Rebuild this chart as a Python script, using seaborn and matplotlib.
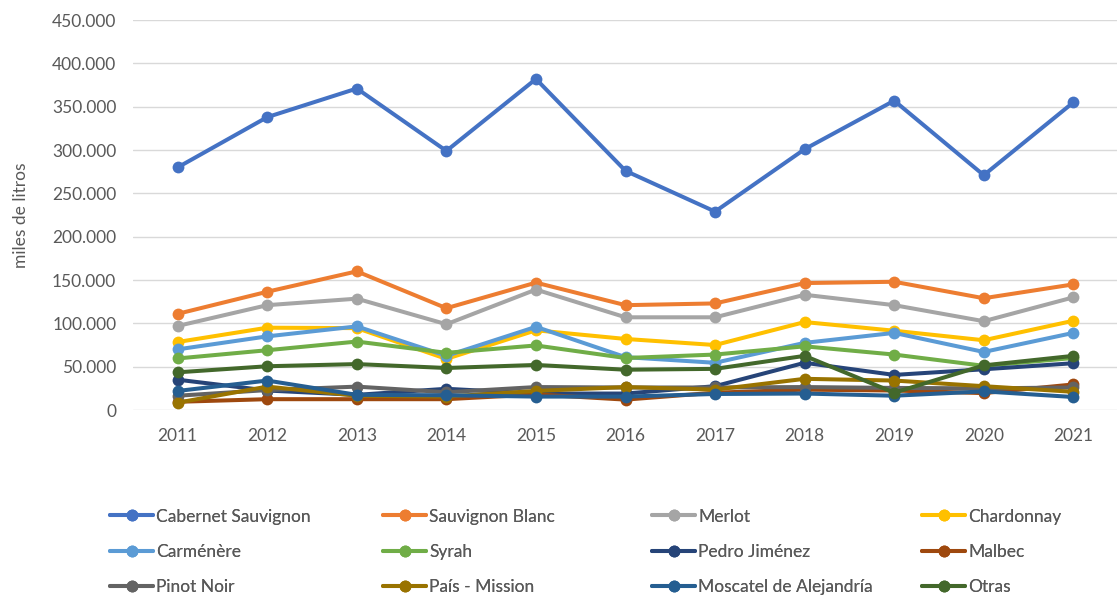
import numpy as np
import pandas as pd
import matplotlib
matplotlib.use("Agg")
import matplotlib.pyplot as plt
import seaborn as sns

years = list(range(2011, 2022))

cabernet_sauvignon = [280000, 338000, 371000, 299000, 382000, 276000, 229000, 301000, 357000, 271000, 355000]
sauvignon_blanc = [111000, 136500, 160000, 117500, 147000, 121000, 123000, 146500, 148000, 129000, 145000]
merlot = [97000, 121000, 128500, 99000, 139000, 107000, 107000, 133000, 121000, 102500, 130000]
chardonnay = [78500, 95000, 94500, 59000, 92000, 82000, 75000, 101500, 91500, 80500, 103000]
carmenere = [70000, 85000, 96500, 62500, 96000, 61000, 54500, 77500, 89000, 67000, 89000]
syrah = [59500, 69000, 79000, 66000, 74500, 60000, 64000, 73500, 64000, 51000, 60000]
pedro_jimenez = [35000, 22500, 17500, 24500, 19000, 19000, 27500, 54500, 40500, 47000, 54000]
malbec = [9500, 12500, 12500, 12500, 18000, 12000, 20000, 23500, 22500, 19500, 29500]
pinot_noir = [16500, 23000, 27000, 20500, 26500, 26000, 26000, 26500, 25500, 25000, 26000]
pais_mission = [8500, 27000, 16500, 15500, 22000, 26500, 23500, 36000, 34000, 27500, 21000]
moscatel = [22000, 34000, 17500, 17000, 15500, 15500, 18500, 19000, 16500, 21500, 15000]
otras = [43500, 50500, 53000, 48500, 52000, 46500, 47500, 62500, 20000, 51500, 62500]

series_names = ["Cabernet Sauvignon", "Sauvignon Blanc", "Merlot", "Chardonnay",
                "Carménère", "Syrah", "Pedro Jiménez", "Malbec",
                "Pinot Noir", "País - Mission", "Moscatel de Alejandría", "Otras"]
series_values = [cabernet_sauvignon, sauvignon_blanc, merlot, chardonnay,
                 carmenere, syrah, pedro_jimenez, malbec,
                 pinot_noir, pais_mission, moscatel, otras]
colors = ["#4472C4", "#ED7D31", "#A5A5A5", "#FFC000",
          "#5B9BD5", "#70AD47", "#264478", "#9E480E",
          "#636363", "#997300", "#255E91", "#43682B"]

sns.set_theme(style="white")
plt.rcParams["font.family"] = ["Lato", "DejaVu Sans"]
text_color = "#595959"
fs = 12.5

fig = plt.figure(figsize=(11.17, 5.99), dpi=100)
ax = fig.add_axes([0.119, 0.3155, 0.882, 0.651])

handles = []
for name, vals, col in zip(series_names, series_values, colors):
    df = pd.DataFrame({"year": years, "value": vals})
    sns.lineplot(data=df, x="year", y="value", ax=ax, color=col, linewidth=2.9,
                 marker="o", markersize=8.5, markeredgewidth=0, label=name, legend=False)
    handles.append(ax.lines[-1])

ax.set_xlim(2010.5, 2021.5)
ax.set_ylim(0, 450000)
ax.set_yticks(np.arange(0, 450001, 50000))
ax.set_yticklabels([f"{int(v):,}".replace(",", ".") for v in np.arange(0, 450001, 50000)])
ax.set_xticks(years)
ax.set_xticklabels([str(y) for y in years])
ax.tick_params(axis="both", colors=text_color, labelsize=fs, length=0)
ax.tick_params(axis="x", pad=13)
ax.tick_params(axis="y", pad=12)
ax.grid(axis="y", color="#D9D9D9", linewidth=1)
ax.set_axisbelow(True)
for s in ax.spines.values():
    s.set_visible(False)
ax.set_xlabel("")
ax.set_ylabel("miles de litros", color=text_color, fontsize=fs)
ax.yaxis.set_label_coords(-0.105, 0.5)

# one small legend per column so the columns sit evenly spaced, rows in order
col_x = [110, 383, 652, 922]
for c in range(4):
    idx = [c, c + 4, c + 8]
    leg = fig.legend([handles[i] for i in idx], [series_names[i] for i in idx],
                     loc="center left", bbox_to_anchor=(col_x[c] / 1117, 1 - 552 / 599),
                     frameon=False, fontsize=fs, handlelength=2.5, handletextpad=0.15,
                     labelspacing=1.12, borderpad=0, borderaxespad=0)
    for t in leg.get_texts():
        t.set_color(text_color)
    fig.add_artist(leg)

fig.savefig("out.png", dpi=100)
